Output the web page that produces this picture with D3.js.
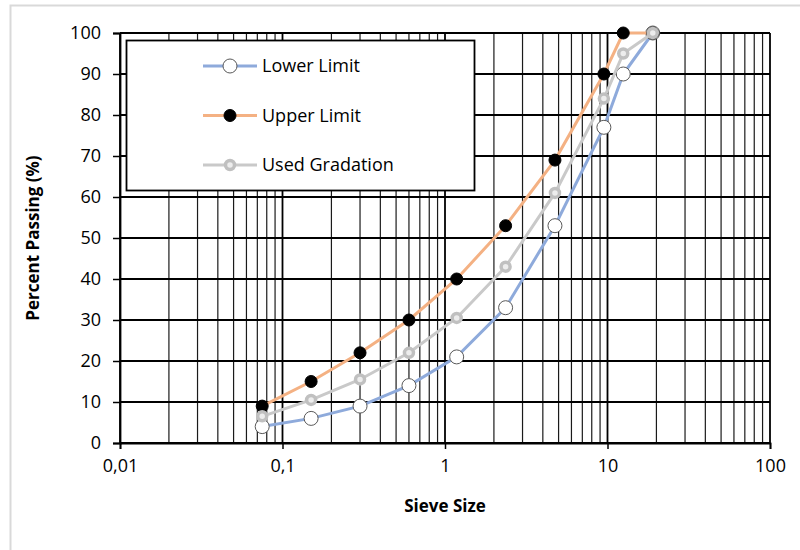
<!DOCTYPE html>
<html>
<head>
<meta charset="utf-8">
<script src="https://cdn.jsdelivr.net/npm/d3@7"></script>
<style>
  body { margin: 0; background: #fff; }
  text { font-family: "Open Sans", "Liberation Sans", sans-serif; }
</style>
</head>
<body>
<div class="container"></div>
<script>
// sieve sizes (mm) and percent passing for each curve
const sieves = [0.075, 0.15, 0.3, 0.6, 1.18, 2.36, 4.75, 9.5, 12.5, 19];
const lowerLimit = [4, 6, 9, 14, 21, 33, 53, 77, 90, 100];
const upperLimit = [9, 15, 22, 30, 40, 53, 69, 90, 100, 100];
const usedGradation = [6.5, 10.5, 15.5, 22, 30.5, 43, 61, 84, 95, 100];
const seriesNames = ["Lower Limit", "Upper Limit", "Used Gradation"];
const xTickValues = [0.01, 0.1, 1, 10, 100];
const xTickLabels = ["0,01", "0,1", "1", "10", "100"];
const yTickValues = [0, 10, 20, 30, 40, 50, 60, 70, 80, 90, 100];

const W = 800, H = 550;
const margin = { top: 33, right: 30, bottom: 107, left: 120 };
const width = W - margin.left - margin.right;
const height = H - margin.top - margin.bottom;

const svg = d3.select(".container")
  .append("svg")
  .attr("width", W)
  .attr("height", H);

// light outer chart frame
svg.append("rect")
  .attr("x", 10.5).attr("y", 5.5)
  .attr("width", W).attr("height", H)
  .attr("fill", "none")
  .attr("stroke", "#d9d9d9")
  .attr("stroke-width", 2);

const g = svg.append("g")
  .attr("transform", `translate(${margin.left}, ${margin.top})`);

const x = d3.scaleLog().domain([0.01, 100]).range([0, width]);
const y = d3.scaleLinear().domain([0, 100]).range([height, 0]);

// vertical grid: minor 2..9 inside each decade, and decades
const minorX = [];
[0.01, 0.1, 1, 10].forEach((d) => {
  for (let k = 2; k <= 9; k++) minorX.push(d * k);
});
g.append("g")
  .selectAll("line")
  .data(minorX)
  .enter()
  .append("line")
  .attr("x1", (d) => x(d)).attr("x2", (d) => x(d))
  .attr("y1", 0).attr("y2", height)
  .attr("stroke", "#1a1a1a")
  .attr("stroke-width", 1.2);

g.append("g")
  .selectAll("line")
  .data(xTickValues)
  .enter()
  .append("line")
  .attr("x1", (d) => x(d)).attr("x2", (d) => x(d))
  .attr("y1", 0).attr("y2", height)
  .attr("stroke", "#000")
  .attr("stroke-width", 1.8);

// horizontal grid
g.append("g")
  .selectAll("line")
  .data(yTickValues)
  .enter()
  .append("line")
  .attr("x1", 0).attr("x2", width)
  .attr("y1", (d) => y(d)).attr("y2", (d) => y(d))
  .attr("stroke", "#000")
  .attr("stroke-width", 1.8);

// axes
const yAxis = g.append("g")
  .call(d3.axisLeft(y).tickValues(yTickValues).tickSize(7).tickPadding(12));
yAxis.select(".domain").attr("stroke-width", 1.8);
yAxis.selectAll(".tick line").attr("stroke-width", 1.5);
yAxis.selectAll("text").attr("font-size", 18).attr("fill", "#000");

const xAxis = g.append("g")
  .attr("transform", `translate(0, ${height})`)
  .call(d3.axisBottom(x).tickValues(xTickValues)
    .tickFormat((d, i) => xTickLabels[i]).tickSize(6).tickPadding(10));
xAxis.select(".domain").attr("stroke-width", 1.8);
xAxis.selectAll(".tick line").attr("stroke-width", 1.5);
xAxis.selectAll("text").attr("font-size", 18).attr("fill", "#000");

// axis titles
svg.append("text")
  .attr("x", margin.left + width / 2)
  .attr("y", 512)
  .attr("text-anchor", "middle")
  .attr("font-size", 17)
  .attr("font-weight", "bold")
  .text("Sieve Size");

svg.append("text")
  .attr("transform", `translate(39, ${margin.top + height / 2}) rotate(-90)`)
  .attr("text-anchor", "middle")
  .attr("font-size", 17)
  .attr("font-weight", "bold")
  .text("Percent Passing (%)");

// legend box (drawn before the series so curves sit above it)
const legend = g.append("g");
legend.append("rect")
  .attr("x", 6.5).attr("y", 7.5)
  .attr("width", 348).attr("height", 150)
  .attr("fill", "#fff")
  .attr("stroke", "#000")
  .attr("stroke-width", 1.8);

const styles = [
  { line: "#8eaadb", fill: "#fff", stroke: "#595959", sw: 1, r: 7 },
  { line: "#f4b183", fill: "#000", stroke: "#000", sw: 1, r: 6 },
  { line: "#c9c9c9", fill: "#ededed", stroke: "#c0c0c0", sw: 3.5, r: 4.5 },
];
const seriesValues = [lowerLimit, upperLimit, usedGradation];

const line = d3.line()
  .x((d) => x(d[0]))
  .y((d) => y(d[1]));

seriesValues.forEach((vals, i) => {
  const pts = sieves.map((s, j) => [s, vals[j]]);
  const st = styles[i];
  g.append("path")
    .datum(pts)
    .attr("d", line)
    .attr("fill", "none")
    .attr("stroke", st.line)
    .attr("stroke-width", 3);
  g.append("g")
    .selectAll("circle")
    .data(pts)
    .enter()
    .append("circle")
    .attr("cx", (d) => x(d[0]))
    .attr("cy", (d) => y(d[1]))
    .attr("r", st.r)
    .attr("fill", st.fill)
    .attr("stroke", st.stroke)
    .attr("stroke-width", st.sw);
});

// legend entries
seriesNames.forEach((name, i) => {
  const st = styles[i];
  const ly = 33 + i * 49.5;
  const row = legend.append("g").attr("transform", `translate(0, ${ly})`);
  row.append("line")
    .attr("x1", 83).attr("x2", 137)
    .attr("y1", 0).attr("y2", 0)
    .attr("stroke", st.line)
    .attr("stroke-width", 3);
  row.append("circle")
    .attr("cx", 110).attr("cy", 0)
    .attr("r", st.r)
    .attr("fill", st.fill)
    .attr("stroke", st.stroke)
    .attr("stroke-width", st.sw);
  row.append("text")
    .attr("x", 142).attr("y", 0)
    .attr("dy", "0.35em")
    .attr("font-size", 18)
    .text(name);
});
</script>
</body>
</html>
